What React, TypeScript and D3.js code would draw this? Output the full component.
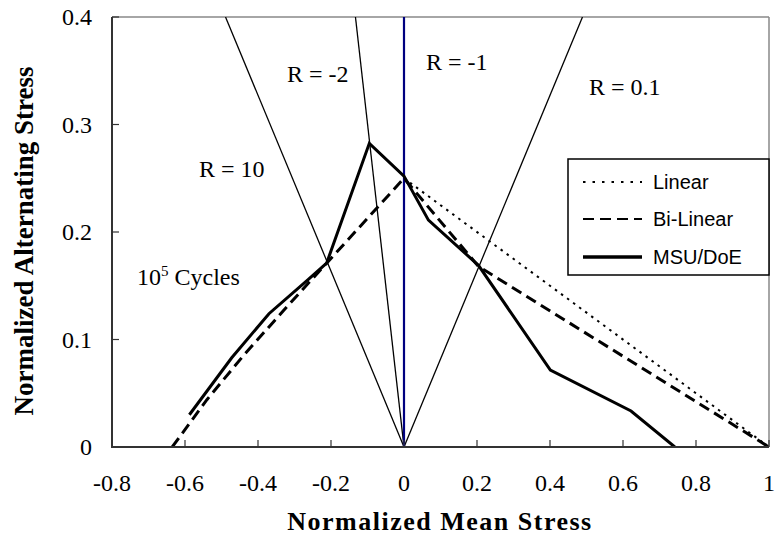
import React from "react";
import * as d3 from "d3";

// Constant-life diagram at 10^5 cycles
const xTicks = [-0.8, -0.6, -0.4, -0.2, 0, 0.2, 0.4, 0.6, 0.8, 1];
const xTickLabels = ["-0.8", "-0.6", "-0.4", "-0.2", "0", "0.2", "0.4", "0.6", "0.8", "1"];
const yTicks = [0, 0.1, 0.2, 0.3, 0.4];
const yTickLabels = ["0", "0.1", "0.2", "0.3", "0.4"];

// Linear (Goodman) model
const linearMean = [0, 1];
const linearAlt = [0.25, 0];

// Bi-linear model
const biLinearMean = [-0.635, -0.54, -0.44, -0.33, -0.212, 0, 0.204, 1];
const biLinearAlt = [0, 0.044, 0.085, 0.127, 0.171, 0.25, 0.168, 0];

// MSU/DoE data
const msuMean = [-0.588, -0.472, -0.37, -0.262, -0.212, -0.095, 0, 0.067, 0.204, 0.401, 0.622, 0.742];
const msuAlt = [0.03, 0.083, 0.124, 0.156, 0.171, 0.2825, 0.252, 0.211, 0.169, 0.0716, 0.0335, 0];

// R-ratio rays from the origin: mean stress where each ray meets the top of the plot
const rayLabels = ["R = 10", "R = -2", "R = 0.1"];
const rayTopMean = [-0.489, -0.133, 0.489];
const rayTopAlt = [0.4, 0.4, 0.4];

const W = 778;
const H = 540;
const serif = "'Liberation Serif', 'Times New Roman', serif";
const sans = "'Liberation Sans', Arial, sans-serif";

export default function App() {
  const x = d3.scaleLinear().domain([-0.8, 1]).range([112, 769]);
  const y = d3.scaleLinear().domain([0, 0.4]).range([447, 17]);
  const [x0, x1] = x.range();
  const [y0, y1] = y.range();

  const line = d3
    .line<[number, number]>()
    .x((d) => x(d[0]))
    .y((d) => y(d[1]));

  const zip = (a: number[], b: number[]) => a.map((v, i) => [v, b[i]] as [number, number]);

  return (
    <svg
      width={W}
      height={H}
      style={{ position: "absolute", left: 0, top: 0, background: "#fff" }}
    >
      <defs>
        <clipPath id="plot">
          <rect x={x0} y={y1} width={x1 - x0} height={y0 - y1} />
        </clipPath>
      </defs>

      {/* plot frame: light top/right, dark axes */}
      <line x1={x0} x2={x1} y1={y1} y2={y1} stroke="#888" strokeWidth={1.5} />
      <line x1={x1} x2={x1} y1={y1} y2={y0} stroke="#888" strokeWidth={1.5} />

      <g clipPath="url(#plot)">
        {rayTopMean.map((m, i) => (
          <path
            key={rayLabels[i]}
            d={line([[0, 0], [m, rayTopAlt[i]]]) || ""}
            stroke="#000"
            strokeWidth={1.3}
            fill="none"
          />
        ))}
        <line x1={x(0)} x2={x(0)} y1={y(0)} y2={y(0.4)} stroke="#000080" strokeWidth={2.2} />

        <path
          d={line(zip(linearMean, linearAlt)) || ""}
          stroke="#000"
          strokeWidth={2}
          strokeDasharray="2.5,5"
          fill="none"
        />
        <path
          d={line(zip(biLinearMean, biLinearAlt)) || ""}
          stroke="#000"
          strokeWidth={3}
          strokeDasharray="11,6"
          fill="none"
        />
        <path
          d={line(zip(msuMean, msuAlt)) || ""}
          stroke="#000"
          strokeWidth={3}
          strokeLinejoin="miter"
          fill="none"
        />
      </g>

      {/* axes */}
      <line x1={x0} x2={x0} y1={y1} y2={y0 + 1} stroke="#333" strokeWidth={2} />
      <line x1={x0 - 1} x2={x1} y1={y0} y2={y0} stroke="#333" strokeWidth={2} />
      {xTicks.map((t, i) => (
        <g key={"x" + i}>
          <line x1={x(t)} x2={x(t)} y1={y0} y2={y0 - 7} stroke="#333" strokeWidth={1.2} />
          <text
            x={x(t)}
            y={491}
            textAnchor="middle"
            fontFamily={serif}
            fontSize={24}
            fill="#000"
          >
            {xTickLabels[i]}
          </text>
        </g>
      ))}
      {yTicks.map((t, i) => (
        <g key={"y" + i}>
          <line x1={x0} x2={x0 + 7} y1={y(t)} y2={y(t)} stroke="#333" strokeWidth={1.2} />
          <text
            x={92}
            y={y(t) + 8}
            textAnchor="end"
            fontFamily={serif}
            fontSize={24}
            fill="#000"
          >
            {yTickLabels[i]}
          </text>
        </g>
      ))}

      {/* axis titles */}
      <text
        x={440}
        y={530}
        textAnchor="middle"
        fontFamily={serif}
        fontWeight="bold"
        fontSize={26}
        letterSpacing={1.5}
        fill="#000"
      >
        Normalized Mean Stress
      </text>
      <text
        transform="translate(33,241) rotate(-90)"
        textAnchor="middle"
        fontFamily={serif}
        fontWeight="bold"
        fontSize={27}
        fill="#000"
      >
        Normalized Alternating Stress
      </text>

      {/* ray and cycle annotations */}
      <g fontFamily={serif} fontSize={24} fill="#000">
        <text x={287} y={82}>R = -2</text>
        <text x={426} y={70}>R = -1</text>
        <text x={589} y={95}>R = 0.1</text>
        <text x={199} y={177}>R = 10</text>
        <text x={137} y={285}>
          10<tspan fontSize={15} dy={-9}>5</tspan>
          <tspan dy={9}> Cycles</tspan>
        </text>
      </g>

      {/* legend */}
      <g>
        <rect x={568} y={159} width={201} height={116} fill="#fff" stroke="#000" strokeWidth={1.5} />
        <line x1={583} x2={642} y1={182} y2={182} stroke="#000" strokeWidth={2} strokeDasharray="2.5,7" />
        <line x1={583} x2={642} y1={219} y2={219} stroke="#000" strokeWidth={2} strokeDasharray="11,6" />
        <line x1={583} x2={642} y1={257} y2={257} stroke="#000" strokeWidth={3.5} />
        <g fontFamily={sans} fontSize={20} fill="#000">
          <text x={653} y={189}>Linear</text>
          <text x={653} y={226}>Bi-Linear</text>
          <text x={653} y={264}>MSU/DoE</text>
        </g>
      </g>
    </svg>
  );
}
